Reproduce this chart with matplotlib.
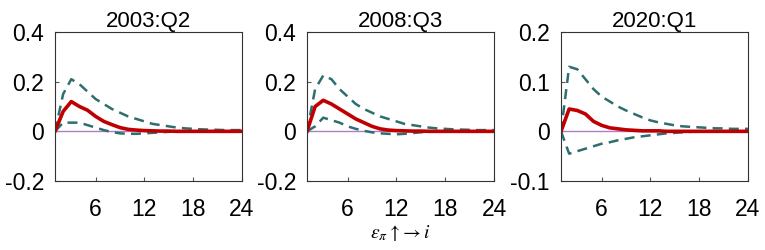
import matplotlib
matplotlib.use("Agg")
import matplotlib.pyplot as plt

horizon = list(range(1, 25))

titles = ["2003:Q2", "2008:Q3", "2020:Q1"]

median_2003 = [0, 0.08, 0.12, 0.10, 0.085, 0.06, 0.04, 0.027, 0.015, 0.008, 0.005, 0.003,
               0.002, 0.001, 0.001, 0, 0, 0, 0, 0, 0, 0, 0, 0]
upper_2003 = [0, 0.15, 0.21, 0.19, 0.16, 0.13, 0.11, 0.09, 0.075, 0.06, 0.05, 0.04,
              0.03, 0.025, 0.02, 0.015, 0.012, 0.01, 0.008, 0.007, 0.006, 0.005, 0.005, 0.005]
lower_2003 = [0, 0.035, 0.035, 0.035, 0.025, 0.015, 0.005, -0.003, -0.008, -0.01, -0.01, -0.008,
              -0.006, -0.004, -0.002, -0.001, 0, 0, 0, 0, 0, 0, 0, 0]

median_2008 = [0, 0.10, 0.125, 0.11, 0.09, 0.07, 0.05, 0.035, 0.02, 0.01, 0.005, 0.003,
               0.002, 0.001, 0.001, 0, 0, 0, 0, 0, 0, 0, 0, 0]
upper_2008 = [0, 0.17, 0.225, 0.21, 0.17, 0.14, 0.11, 0.09, 0.075, 0.06, 0.05, 0.04,
              0.03, 0.025, 0.02, 0.015, 0.012, 0.01, 0.008, 0.007, 0.006, 0.005, 0.005, 0.005]
lower_2008 = [0, 0.02, 0.055, 0.045, 0.035, 0.02, 0.01, 0.002, -0.004, -0.008, -0.01, -0.012,
              -0.01, -0.007, -0.004, -0.002, -0.001, 0, 0, 0, 0, 0, 0, 0]

median_2020 = [0, 0.045, 0.042, 0.035, 0.02, 0.012, 0.007, 0.005, 0.003, 0.002, 0.001, 0.001,
               0.001, 0, 0, 0, 0, 0, 0, 0, 0, 0, 0, 0]
upper_2020 = [0, 0.13, 0.125, 0.105, 0.085, 0.07, 0.06, 0.05, 0.042, 0.035, 0.028, 0.022,
              0.018, 0.015, 0.012, 0.01, 0.009, 0.008, 0.007, 0.006, 0.006, 0.005, 0.005, 0.005]
lower_2020 = [0, -0.045, -0.04, -0.035, -0.03, -0.025, -0.022, -0.018, -0.015, -0.012, -0.01, -0.008,
              -0.006, -0.004, -0.003, -0.002, -0.001, 0, 0, 0, 0, 0, 0, 0]

medians = [median_2003, median_2008, median_2020]
uppers = [upper_2003, upper_2008, upper_2020]
lowers = [lower_2003, lower_2008, lower_2020]
ylims = [(-0.2, 0.4), (-0.2, 0.4), (-0.1, 0.2)]
yticks = [[-0.2, 0, 0.2, 0.4], [-0.2, 0, 0.2, 0.4], [-0.1, 0, 0.1, 0.2]]
xticks = [6, 12, 18, 24]

plt.rcParams['font.family'] = ['Liberation Sans', 'DejaVu Sans']

fig = plt.figure(figsize=(7.65, 2.5), dpi=100)
lefts = [55, 307, 561]
for i in range(3):
    ax = fig.add_axes([lefts[i] / 765, 1 - 181 / 250, 187 / 765, 149 / 250])
    ax.plot(horizon, [0] * len(horizon), color='#b07cc6', linewidth=1)
    ax.plot(horizon, uppers[i], color='#2e6e6e', linestyle=(0, (4, 2.5)), linewidth=1.8)
    ax.plot(horizon, lowers[i], color='#2e6e6e', linestyle=(0, (4, 2.5)), linewidth=1.8)
    ax.plot(horizon, medians[i], color='#c00000', linewidth=2.6)
    ax.set_xlim(1, 24)
    ax.set_ylim(*ylims[i])
    ax.set_xticks(xticks)
    ax.set_yticks(yticks[i])
    ax.set_yticklabels([f"{v:g}" for v in yticks[i]])
    ax.tick_params(direction='in', labelsize=16.5, length=3, color='#555555')
    ax.tick_params(axis='y', pad=8)
    ax.tick_params(axis='x', pad=12)
    for s in ax.spines.values():
        s.set_color('#333333')
        s.set_linewidth(0.8)
    ax.set_title(titles[i], fontsize=16, pad=3)
    if i == 1:
        ax.set_xlabel(r'$\varepsilon_\pi \uparrow\!\rightarrow i$', fontsize=14, labelpad=2,
                      math_fontfamily='stix')

fig.savefig('out.png', dpi=100)
